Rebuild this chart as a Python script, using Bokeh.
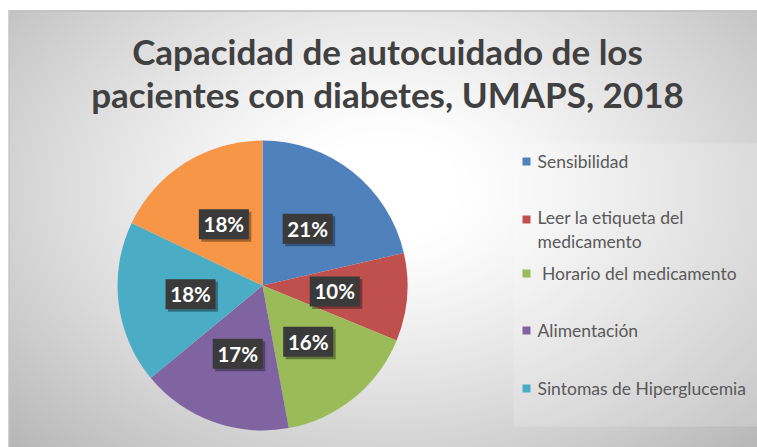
import numpy as np
from bokeh.plotting import figure
from bokeh.models import Range1d
from bokeh.core.properties import value
from bokeh.embed import file_html
from bokeh.resources import INLINE

# ---------------- data ----------------
title_lines = ["Capacidad de autocuidado de los", "pacientes con diabetes, UMAPS, 2018"]
categories = ["Sensibilidad", "Leer la etiqueta del\nmedicamento", "\u00a0Horario del medicamento",
              "Alimentación", "Sintomas de Hiperglucemia"]
hidden_category = "Otro"          # sixth slice (no legend entry in the original)
values = [21.4, 9.8, 15.9, 16.9, 18.1, 17.9]
colors = ["#4F81BD", "#C0504D", "#9BBB59", "#8064A2", "#4BACC6", "#F79646"]

# ---------------- layout ----------------
W, H = 757, 447
FONT = "Lato"

def sy(Y):          # screen Y (window px) -> data y
    return H - Y

def sx(X):
    return X

p = figure(width=W, height=H, output_backend="svg", toolbar_location=None,
           x_range=Range1d(0, W), y_range=Range1d(0, H), min_border=0)
p.axis.visible = False
p.grid.visible = False
p.outline_line_color = None
p.background_fill_color = "white"
p.border_fill_color = "white"

# background radial gradient (chart area)
x0, ytop = 8, 10
gw, gh = W - x0, H - ytop
xs = np.arange(gw) + x0 + 0.5
ys = ytop + np.arange(gh)[::-1] + 0.5      # row 0 = bottom
X, Y = np.meshgrid(xs, ys)
d = np.sqrt(((X - 385) / 380.0) ** 2 + ((Y - 190) / 260.0) ** 2)
v = 255 - 58 * np.clip((d - 0.2) / 1.0, 0, 1.25) ** 1.2
v = np.clip(v, 0, 255).astype(np.uint32)
img = np.empty((gh, gw), dtype=np.uint32)
view = img.view(dtype=np.uint8).reshape((gh, gw, 4))
view[:, :, 0] = v
view[:, :, 1] = v
view[:, :, 2] = v
view[:, :, 3] = 255
p.image_rgba(image=[img], x=x0, y=0, dw=gw, dh=gh)
# top / left edge lines
p.segment(x0=x0, y0=gh - 0.5, x1=W, y1=gh - 0.5, line_color="#bdbdbd", line_width=1.5)
p.segment(x0=x0 + 0.5, y0=0, x1=x0 + 0.5, y1=gh, line_color="#c4c4c4", line_width=1)

# legend box (subtle lighter fill)
p.quad(left=sx(513), right=W, top=sy(143), bottom=sy(426), fill_color="white",
       fill_alpha=0.18, line_color=None)

# title
p.text(x=[sx(387)] * 2, y=[sy(50), sy(93.5)], text=title_lines,
       text_font=value(FONT), text_font_style="bold", text_font_size="35px",
       text_color="#404040", text_align="center", text_baseline="alphabetic")

# pie
cx, cy, r = sx(262), sy(285), 145
vals = np.array(values, dtype=float)
frac = vals / vals.sum()
cum = np.concatenate([[0], np.cumsum(frac)])
start = np.pi / 2 - 2 * np.pi * cum[1:]
end = np.pi / 2 - 2 * np.pi * cum[:-1]
p.wedge(x=cx, y=cy, radius=r, start_angle=start, end_angle=end,
        fill_color=colors, line_color=None)

# data labels
mid = (start + end) / 2
lx = cx + 0.5 * r * np.cos(mid)
ly = cy + 0.5 * r * np.sin(mid)
labels = [f"{round(v_)}%" for v_ in vals]
p.rect(x=lx + 2.5, y=ly - 2.5, width=50, height=30, fill_color="black",
       fill_alpha=0.35, line_color=None)
p.rect(x=lx, y=ly, width=50, height=30, fill_color="#3a3a3a", line_color=None)
p.text(x=lx, y=ly, text=labels, text_font=value(FONT), text_font_style="bold",
       text_font_size="20.5px", text_color="white", text_align="center",
       text_baseline="middle")

# legend
leg_Y = [161, 219, 273, 330, 388]
line_h = 20
sq_y = [sy(Yv) for Yv in leg_Y]
txt_y = [sy(Yv + (c.count("\n")) * line_h / 2) for Yv, c in zip(leg_Y, categories)]
p.rect(x=[sx(526)] * len(categories), y=sq_y, width=8, height=8,
       fill_color=colors[:len(categories)], line_color=None)
p.text(x=[sx(537)] * len(categories), y=txt_y, text=categories,
       text_font=value(FONT), text_font_size="17.5px", text_color="#595959",
       text_align="left", text_baseline="middle", text_line_height=1.15)

open("out.html", "w").write(file_html(p, INLINE))
